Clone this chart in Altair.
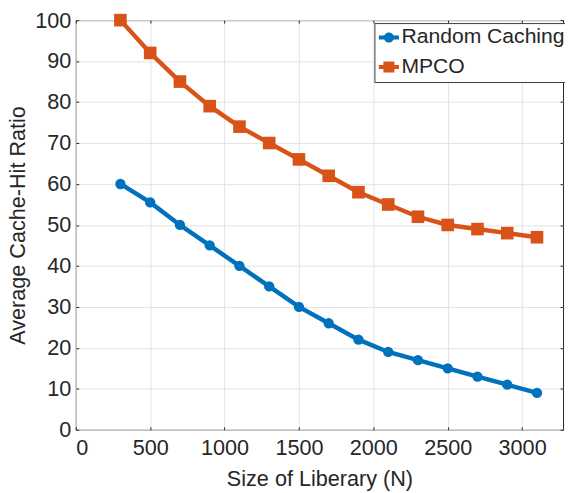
import altair as alt
import pandas as pd

library_size = [300, 500, 700, 900, 1100, 1300, 1500, 1700, 1900, 2100, 2300, 2500, 2700, 2900, 3100]
random_caching = [60, 55.5, 50, 45, 40, 35, 30, 26, 22, 19, 17, 15, 13, 11, 9]
mpco = [100, 92, 85, 79, 74, 70, 66, 62, 58, 55, 52, 50, 49, 48, 47]
series_names = ["Random Caching", "MPCO"]
series_colors = ["#0072BD", "#D95319"]
x_ticks = [0, 500, 1000, 1500, 2000, 2500, 3000]
y_ticks = [0, 10, 20, 30, 40, 50, 60, 70, 80, 90, 100]

rows = []
for name, vals in zip(series_names, [random_caching, mpco]):
    for xv, yv in zip(library_size, vals):
        rows.append({"N": xv, "ratio": yv, "series": name})
df = pd.DataFrame(rows)

FONT = "Liberation Sans"
TXT = "#262626"
GRID = "#e2e2e2"
FS = 22

xscale = alt.Scale(domain=[0, 3275], nice=False, zero=False)
yscale = alt.Scale(domain=[0, 100], nice=False)
cscale = alt.Scale(domain=series_names, range=series_colors)

legend_paths = [
    "M-1,-0.2H1V0.2H-1Z M-0.5,0 A0.5,0.5 0 1,1 0.5,0 A0.5,0.5 0 1,1 -0.5,0 Z",
    "M-1,-0.2H1V0.2H-1Z M-0.55,-0.55H0.55V0.55H-0.55Z",
]
sscale = alt.Scale(domain=series_names, range=legend_paths)

x_main = alt.X(
    "N:Q", scale=xscale,
    axis=alt.Axis(
        orient="bottom", values=x_ticks, format="d", offset=-3, tickSize=3, tickColor=TXT,
        domain=False, grid=True, gridColor=GRID, gridWidth=1,
        labelFont=FONT, labelFontSize=FS, labelColor=TXT, labelPadding=8,
        title="Size of Liberary (N)", titleFont=FONT, titleFontSize=FS,
        titleFontWeight="normal", titleColor=TXT, titleBaseline="alphabetic",
        titleY=59.5,
    ),
)
y_main = alt.Y(
    "ratio:Q", scale=yscale,
    axis=alt.Axis(
        orient="left", values=y_ticks, format="d", offset=-3, tickSize=3, tickColor=TXT,
        domain=False, grid=True, gridColor=GRID, gridWidth=1,
        labelFont=FONT, labelFontSize=FS, labelColor=TXT, labelPadding=5,
        title="Average Cache-Hit Ratio", titleFont=FONT, titleFontSize=FS,
        titleFontWeight="normal", titleColor=TXT, titleBaseline="alphabetic",
        titleAngle=270, titleX=-55,
    ),
)
x_none = alt.X("N:Q", scale=xscale, axis=None)
y_none = alt.Y("ratio:Q", scale=yscale, axis=None)

base = alt.Chart(df)
rc = base.transform_filter(alt.datum.series == series_names[0])
mp = base.transform_filter(alt.datum.series == series_names[1])

line_rc = rc.mark_line(strokeWidth=4.5, color=series_colors[0]).encode(x=x_main, y=y_main)
line_mp = mp.mark_line(strokeWidth=4.5, color=series_colors[1]).encode(x=x_none, y=y_none)

circles = rc.mark_point(
    filled=True, shape="circle", size=110, opacity=1, color=series_colors[0]
).encode(x=x_none, y=y_none)
squares = mp.mark_point(
    filled=True, shape="square", size=165, opacity=1, color=series_colors[1]
).encode(x=x_none, y=y_none)

leg_props = dict(
    title=None, orient="none", legendX=304, legendY=3, padding=4,
    fillColor="white", strokeColor="#3a3a3a",
    labelFont=FONT, labelFontSize=21.5, labelColor=TXT, labelOffset=2,
    symbolSize=420, symbolStrokeWidth=0, symbolOpacity=1, rowPadding=7,
    labelLimit=400,
)
legend_layer = base.mark_point(filled=True, opacity=0).encode(
    x=x_none, y=y_none,
    color=alt.Color("series:N", scale=cscale, legend=alt.Legend(**leg_props)),
    shape=alt.Shape("series:N", scale=sscale, legend=alt.Legend(**leg_props)),
)

top_axis = base.mark_point(opacity=0).encode(
    x=alt.X("N:Q", scale=xscale, axis=alt.Axis(
        orient="top", values=x_ticks, offset=-3, tickSize=3, tickColor=TXT,
        labels=False, domain=False, grid=False, title=None)),
    y=y_none,
)
right_axis = base.mark_point(opacity=0).encode(
    x=x_none,
    y=alt.Y("ratio:Q", scale=yscale, axis=alt.Axis(
        orient="right", values=y_ticks, offset=-3, tickSize=3, tickColor=TXT,
        labels=False, domain=False, grid=False, title=None)),
)

chart = alt.layer(
    line_rc, line_mp, circles, squares, legend_layer, top_axis, right_axis
).resolve_axis(
    x="independent", y="independent"
).properties(
    width=496, height=417,
    autosize=alt.AutoSizeParams(type="none"),
    padding={"left": 69, "top": 8, "right": 2, "bottom": 60},
    background="white",
).configure_view(stroke=TXT, strokeWidth=1)

chart.save("out.html", embed_options={"renderer": "svg", "actions": False})
